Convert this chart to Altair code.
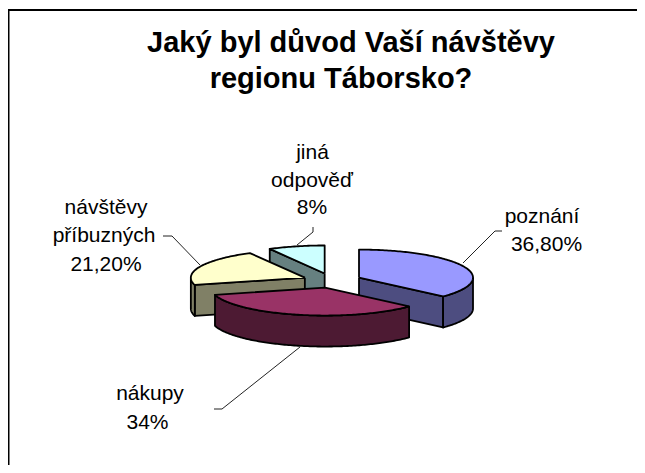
import numpy as np
import pandas as pd
import altair as alt

# ---- data ----
categories = ["poznání", "nákupy", "návštěvy příbuzných", "jiná odpověď"]
shares = [36.8, 34.0, 21.2, 8.0]
top_colors = ["#9999FF", "#993366", "#FFFFCC", "#CCFFFF"]
side_colors = ["#4D4D80", "#4D1A33", "#808066", "#668080"]
label_lines = ["poznání", "36,80%", "nákupy", "34%", "návštěvy", "příbuzných", "21,20%", "jiná", "odpověď", "8%"]
label_x = [542, 546.5, 150, 147.5, 106, 104, 106, 312.5, 312, 312]
label_y = [223, 251, 400, 429, 214, 242, 271, 159, 187, 214]
leader_id = [0, 0, 0, 1, 1, 1, 2, 2, 2, 3, 3, 3]
leader_x = [463, 495, 502, 300, 222, 214, 200, 172, 163, 297, 313, 313]
leader_y = [263, 231, 231, 347, 409, 409, 265, 236, 236, 245, 232, 227]
frame_x = [8.5, 8.5, 645]
frame_y = [473, 10, 10]
title_lines = ["Jaký byl důvod Vaší návštěvy", "regionu Táborsko?"]
title_x = [351, 341]
title_y = [52, 88]

# ---- projection of the tilted, exploded pie ----
CX, CY, RX, RY, DEPTH, EXPLODE = 332.0, 280.5, 114.0, 28.0, 31.0, 29.5


def on_ellipse(cx, cy, deg):
    t = np.radians(deg)
    return cx + RX * np.sin(t), cy - RY * np.cos(t)


def arc(cx, cy, a0, a1):
    n = max(int(abs(a1 - a0)), 1) + 1
    return [on_ellipse(cx, cy, a) for a in np.linspace(a0, a1, n)]


polys = []


def add_poly(pts, color, z):
    for i, (px, py) in enumerate(pts):
        polys.append({"poly": f"{z:03d}", "i": i, "px": px, "py": py, "c": color})


starts = np.cumsum([0] + shares[:-1]) * 3.6
ends = np.cumsum(shares) * 3.6
draw_order = [3, 2, 0, 1]
z = 0
for s in draw_order:
    a0, a1 = starts[s], ends[s]
    mid = np.radians((a0 + a1) / 2)
    cx = CX + EXPLODE * np.sin(mid)
    cy = CY - EXPLODE * RY / RX * np.cos(mid)
    # radial side faces that look towards the viewer
    for a in (a0, a1):
        ex, ey = on_ellipse(cx, cy, a)
        facing = (a == a0 and 180 < a < 360) or (a == a1 and 0 < a < 180)
        if facing:
            add_poly([(cx, cy), (ex, ey), (ex, ey + DEPTH), (cx, cy + DEPTH)], side_colors[s], z)
            z += 1
    # outer wall, front half of the ellipse only
    w0, w1 = max(a0, 90), min(a1, 270)
    if w0 < w1:
        upper = arc(cx, cy, w0, w1)
        lower = [(x, y + DEPTH) for x, y in reversed(upper)]
        add_poly(upper + lower, side_colors[s], z)
        z += 1
    # top face
    add_poly([(cx, cy)] + arc(cx, cy, a0, a1), top_colors[s], z)
    z += 1

poly_df = pd.DataFrame(polys)
# close every outline
closing = poly_df[poly_df.i == 0].copy()
closing["i"] = 100000
poly_df = pd.concat([poly_df, closing], ignore_index=True)

x_s = alt.Scale(domain=[8, 637], range=[0, 629])
y_s = alt.Scale(domain=[8, 465], range=[0, 457])
X = lambda f: alt.X(f, type="quantitative", scale=x_s, axis=None)
Y = lambda f: alt.Y(f, type="quantitative", scale=y_s, axis=None)

layers = []
for name, grp in poly_df.groupby("poly", sort=True):
    layers.append(
        alt.Chart(grp.drop(columns="poly"))
        .mark_line(fill=grp.c.iloc[0], stroke="#000000", strokeWidth=1.8, strokeJoin="round", clip=False)
        .encode(x=X("px"), y=Y("py"), order="i:Q")
    )

frame = (
    alt.Chart(pd.DataFrame({"x": frame_x, "y": frame_y, "i": range(len(frame_x))}))
    .mark_line(color="#000000", strokeWidth=2, clip=True)
    .encode(x=X("x"), y=Y("y"), order="i:Q")
)
leaders = (
    alt.Chart(pd.DataFrame({"x": leader_x, "y": leader_y, "d": leader_id}))
    .mark_line(color="#222222", strokeWidth=1)
    .encode(x=X("x"), y=Y("y"), detail="d:N", order=alt.Order("rank:Q"))
    .transform_window(rank="row_number()", groupby=["d"])
)
labels = (
    alt.Chart(pd.DataFrame({"x": label_x, "y": label_y, "t": label_lines}))
    .mark_text(font="Liberation Sans", fontSize=21, color="#000000", align="center", baseline="alphabetic")
    .encode(x=X("x"), y=Y("y"), text="t:N")
)
titles = (
    alt.Chart(pd.DataFrame({"x": title_x, "y": title_y, "t": title_lines}))
    .mark_text(font="Liberation Sans", fontSize=29, fontWeight="bold", color="#000000", align="center", baseline="alphabetic")
    .encode(x=X("x"), y=Y("y"), text="t:N")
)

chart = (
    alt.layer(frame, *layers, leaders, labels, titles)
    .properties(width=629, height=457, padding=0, background="#FFFFFF", autosize="none")
    .configure_view(stroke=None)
)
chart.save("out.html", embed_options={"renderer": "svg", "actions": False})
